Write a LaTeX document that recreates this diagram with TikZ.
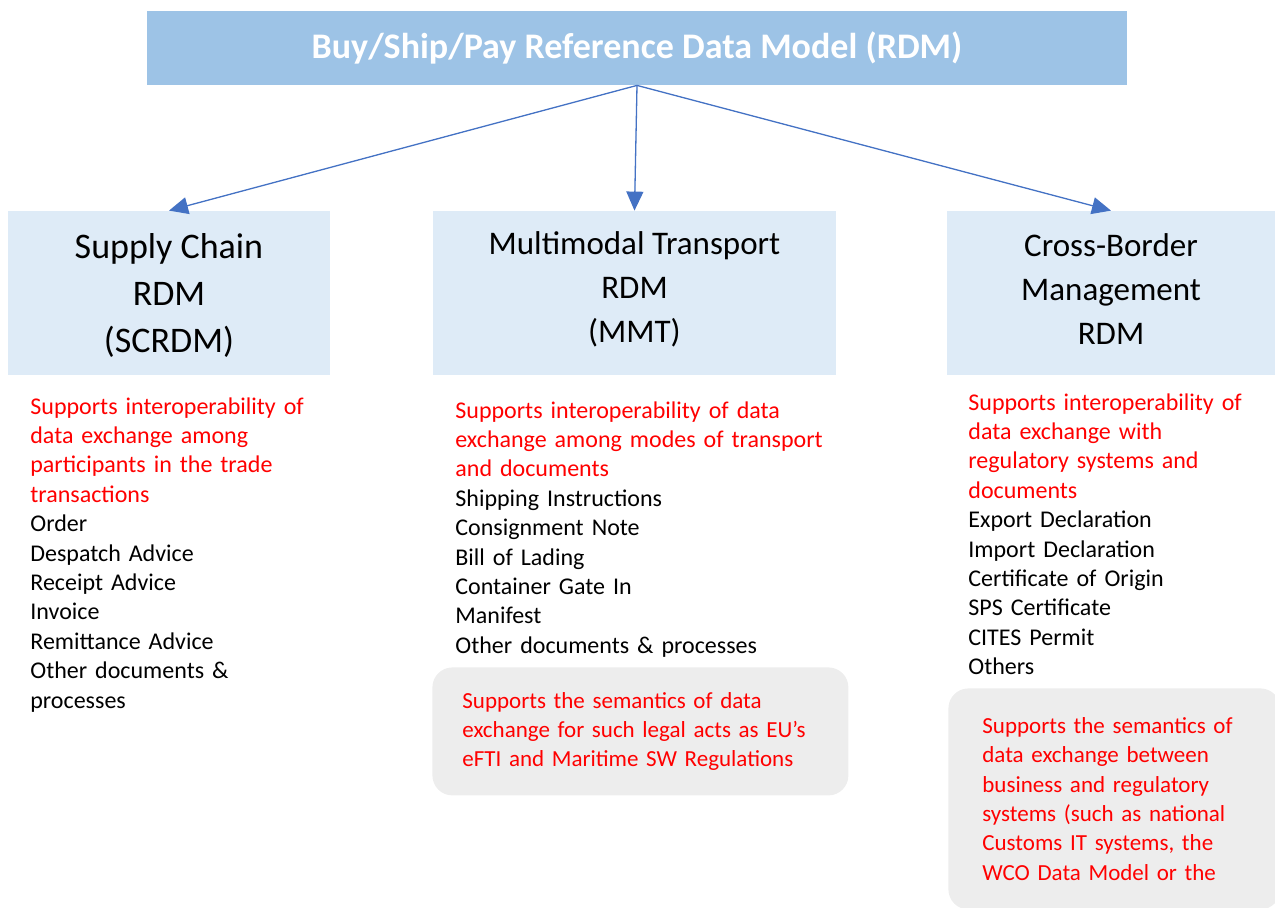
\documentclass[tikz,border=0pt]{standalone}
\usepackage{fontspec}
\setmainfont{Carlito}
\usepackage{xcolor}
\usepackage{tikz}
\usetikzlibrary{arrows.meta}
\usetikzlibrary{positioning}
\definecolor{rdmblue}{HTML}{9DC3E6}
\definecolor{rdmpale}{HTML}{DEEBF7}
\definecolor{rdmarrow}{HTML}{4472C4}
\definecolor{rdmgray}{HTML}{EDEDED}
\definecolor{rdmred}{HTML}{FF0000}
\tikzset{>={Triangle[length=9.5pt, width=8.5pt]}}
\tikzstyle{hdr} = [rectangle, fill=rdmpale, draw=none, minimum height=82pt]
\tikzstyle{hdrtext} = [align=center, inner sep=0pt, font=\fontsize{16.5}{22}\selectfont]
\tikzstyle{list} = [anchor=base west, inner sep=0pt, align=left, font=\fontsize{12}{14.7}\selectfont]
\tikzstyle{note} = [rectangle, rounded corners=10pt, fill=rdmgray, anchor=north west, text=rdmred, align=left, font=\fontsize{11.5}{14.7}\selectfont]
\tikzstyle{link} = [->, draw=rdmarrow, fill=rdmarrow, line width=0.65pt]

\begin{document}
\begin{tikzpicture}[x=0.5pt, y=-0.5pt]
\useasboundingbox (0,0) rectangle (1275,907);
\node [rectangle, fill=rdmblue, minimum width=490pt, minimum height=37pt, text=white, font=\bfseries\fontsize{18}{21}\selectfont] (rdm) at (637,48) {Buy/Ship/Pay Reference Data Model (RDM)};
\node [hdr, minimum width=161pt] (sc) at (169,293) {};
\node [hdr, minimum width=201.5pt] (mmt) at (634.5,293) {};
\node [hdr, minimum width=164pt] (cbm) at (1111,293) {};
\node [hdrtext, yshift=-1pt, font=\fontsize{18}{23.5}\selectfont] (sct) at (sc.center) {Supply Chain\\RDM\\(SCRDM)};
\node [hdrtext, yshift=2pt] (mmtt) at (mmt.center) {Multimodal Transport\\RDM\\(MMT)};
\node [hdrtext, yshift=2pt] (cbmt) at (cbm.center) {Cross-Border\\Management\\RDM};
\draw [link] (rdm.south) -- (sc.north);
\draw [link] (rdm.south) -- (mmt.north);
\draw [link] (rdm.south) -- (cbm.north);
% lists below the boxes
\node [list, text width=160pt] (scl) at (30,414) {\textcolor{rdmred}{Supports interoperability of}\\
  \textcolor{rdmred}{data exchange among}\\
  \textcolor{rdmred}{participants in the trade}\\
  \textcolor{rdmred}{transactions}\\
  Order\\Despatch Advice\\Receipt Advice\\Invoice\\Remittance Advice\\Other documents \&\\processes};
\node [list, text width=200pt] (mmtl) at (455,418) {\textcolor{rdmred}{Supports interoperability of data}\\
  \textcolor{rdmred}{exchange among modes of transport}\\
  \textcolor{rdmred}{and documents}\\
  Shipping Instructions\\Consignment Note\\Bill of Lading\\Container Gate In\\Manifest\\Other documents \& processes};
\node [list, text width=150pt] (cbml) at (968,410) {\textcolor{rdmred}{Supports interoperability of}\\
  \textcolor{rdmred}{data exchange with}\\
  \textcolor{rdmred}{regulatory systems and}\\
  \textcolor{rdmred}{documents}\\
  Export Declaration\\Import Declaration\\Certificate of Origin\\SPS Certificate\\CITES Permit\\Others};
% grey notes
\node [note, minimum width=208pt, minimum height=64pt, inner xsep=15pt, text width=178pt] (mmtn) at (432,667) {Supports the semantics of data\\exchange for such legal acts as EU’s\\eFTI and Maritime SW Regulations};
\node [note, minimum width=166pt, minimum height=110.5pt, inner xsep=17pt, text width=132pt] (cbmn) at (948,688) {Supports the semantics of\\data exchange between\\business and regulatory\\systems (such as national\\Customs IT systems, the\\WCO Data Model or the};
\end{tikzpicture}
\end{document}
